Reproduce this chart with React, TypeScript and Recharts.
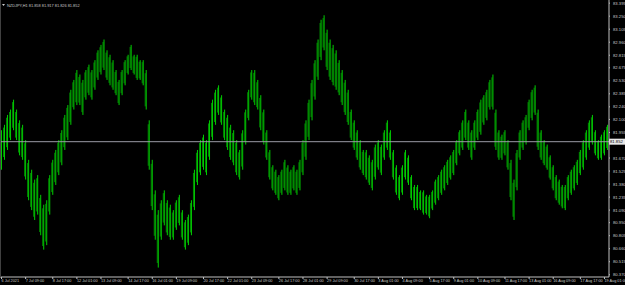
import React from 'react'
import { ComposedChart, Bar, XAxis, YAxis, ReferenceLine } from 'recharts'

const title = 'NZDJPY,H1  81.858 81.917 81.826 81.852'
const lastPrice = 81.852

// sample index where each time label sits
const timeTickIndex = [0, 8, 17, 25, 33, 42, 50, 58, 67, 75, 83, 92, 100, 108, 117, 125, 133, 142, 150, 158, 167, 175, 183, 192, 200]
const timeLabels = [
  '6 Jul 2021', '7 Jul 09:00', '8 Jul 17:00', '12 Jul 01:00', '13 Jul 09:00', '14 Jul 17:00', '16 Jul 01:00',
  '19 Jul 09:00', '20 Jul 17:00', '22 Jul 01:00', '23 Jul 09:00', '26 Jul 17:00', '28 Jul 01:00', '29 Jul 09:00',
  '30 Jul 17:00', '3 Aug 01:00', '4 Aug 09:00', '5 Aug 17:00', '9 Aug 01:00', '10 Aug 09:00', '11 Aug 17:00',
  '13 Aug 01:00', '16 Aug 09:00', '17 Aug 17:00', '19 Aug 01:00',
]

const priceTicks = [83.395, 83.25, 83.105, 82.96, 82.815, 82.675, 82.53, 82.385, 82.24, 82.1, 81.955, 81.67, 81.525, 81.38, 81.235, 81.09, 80.95, 80.805, 80.66, 80.515, 80.37]

// highs / lows sampled across the window, left to right
const highs = [
  81.98, 82.04, 82.15, 82.21, 82.32, 82.21, 82.09, 82.04, 81.87, 81.65, 81.54, 81.43, 81.48, 81.26, 81.15, 81.2, 81.48, 81.65, 81.76, 81.87,
  81.98, 82.15, 82.26, 82.43, 82.54, 82.65, 82.6, 82.54, 82.65, 82.71, 82.65, 82.76, 82.87, 82.93, 82.99, 82.87, 82.82, 82.76, 82.65, 82.54,
  82.65, 82.76, 82.82, 82.93, 82.82, 82.82, 82.76, 82.76, 82.65, 82.09, 81.65, 81.31, 81.09, 81.2, 81.31, 81.2, 81.15, 81.09, 81.2, 81.26,
  81.09, 80.98, 81.04, 81.2, 81.54, 81.76, 81.87, 81.93, 81.87, 82.09, 82.32, 82.43, 82.48, 82.37, 82.21, 82.15, 82.04, 81.98, 81.87, 81.76,
  81.98, 82.21, 82.43, 82.65, 82.65, 82.54, 82.37, 82.21, 81.98, 81.76, 81.59, 81.54, 81.48, 81.54, 81.65, 81.59, 81.54, 81.59, 81.54, 81.65,
  81.87, 82.09, 82.32, 82.54, 82.76, 82.99, 83.21, 83.26, 83.1, 82.99, 82.93, 82.87, 82.76, 82.65, 82.54, 82.43, 82.21, 82.09, 81.98, 81.87,
  81.76, 81.76, 81.7, 81.65, 81.82, 81.87, 81.82, 81.98, 82.09, 81.98, 81.76, 81.59, 81.48, 81.59, 81.76, 81.7, 81.48, 81.37, 81.37, 81.31,
  81.31, 81.26, 81.26, 81.31, 81.43, 81.48, 81.54, 81.59, 81.65, 81.7, 81.76, 81.87, 81.98, 82.09, 82.21, 82.09, 81.98, 82.09, 82.21, 82.32,
  82.37, 82.43, 82.54, 82.6, 82.21, 81.98, 81.93, 81.98, 81.87, 81.65, 81.43, 81.76, 81.98, 82.09, 82.15, 82.32, 82.43, 82.48, 82.21, 81.98,
  81.87, 81.82, 81.7, 81.59, 81.48, 81.43, 81.37, 81.37, 81.48, 81.54, 81.59, 81.65, 81.76, 81.87, 81.98, 82.09, 82.15, 81.98, 81.87, 81.93,
  81.98, 82.04,
]
const lows = [
  81.54, 81.65, 81.76, 81.87, 81.98, 81.87, 81.7, 81.65, 81.43, 81.2, 81.09, 80.98, 81.04, 80.81, 80.65, 80.7, 81.04, 81.26, 81.37, 81.48,
  81.59, 81.76, 81.87, 82.04, 82.21, 82.26, 82.26, 82.15, 82.32, 82.37, 82.32, 82.43, 82.54, 82.6, 82.65, 82.54, 82.48, 82.43, 82.37, 82.26,
  82.37, 82.48, 82.6, 82.65, 82.6, 82.54, 82.54, 82.48, 82.21, 81.54, 81.09, 80.76, 80.45, 80.76, 80.92, 80.81, 80.76, 80.76, 80.87, 80.92,
  80.76, 80.65, 80.7, 80.81, 81.09, 81.37, 81.48, 81.54, 81.48, 81.65, 81.87, 82.04, 82.15, 82.04, 81.87, 81.76, 81.65, 81.59, 81.48, 81.43,
  81.54, 81.82, 82.09, 82.32, 82.26, 82.21, 81.98, 81.82, 81.65, 81.43, 81.31, 81.26, 81.2, 81.26, 81.31, 81.26, 81.26, 81.31, 81.26, 81.31,
  81.48, 81.65, 81.87, 82.09, 82.32, 82.54, 82.76, 82.87, 82.65, 82.54, 82.48, 82.43, 82.37, 82.26, 82.15, 82.04, 81.87, 81.76, 81.65, 81.54,
  81.48, 81.43, 81.37, 81.31, 81.43, 81.54, 81.48, 81.65, 81.76, 81.65, 81.43, 81.26, 81.2, 81.26, 81.43, 81.37, 81.2, 81.09, 81.09, 81.09,
  81.04, 81.04, 81.0, 81.09, 81.15, 81.2, 81.26, 81.31, 81.37, 81.43, 81.48, 81.59, 81.7, 81.76, 81.87, 81.76, 81.65, 81.76, 81.87, 81.93,
  82.04, 82.09, 82.21, 82.21, 81.76, 81.65, 81.65, 81.7, 81.54, 81.2, 80.98, 81.31, 81.65, 81.76, 81.82, 81.98, 82.09, 82.15, 81.76, 81.65,
  81.59, 81.54, 81.43, 81.31, 81.2, 81.15, 81.11, 81.09, 81.2, 81.26, 81.31, 81.37, 81.48, 81.54, 81.65, 81.76, 81.82, 81.7, 81.65, 81.65,
  81.7, 81.76,
]

const data = highs.map((h, i) => ({ i, range: [lows[i], h] }))

const BarShape = (props: any) => {
  const { x, y, width, height } = props
  if (height == null || isNaN(height)) return null
  const h = Math.max(Math.abs(height), 1)
  const top = height < 0 ? y + height : y
  return (
    <g>
      <rect x={x} y={top + h * 0.08} width={1} height={h * 0.84} fill="#008c00" />
      <rect x={x + 1} y={top} width={1} height={h} fill="#00cc00" />
    </g>
  )
}

const PriceTick = (props: any) => {
  const { x, y, payload } = props
  return (
    <text x={x + 1} y={y + 1.5} fontSize={4.2} fill="#c8c8c8" fontFamily="Liberation Sans, Arial, sans-serif">
      {payload.value.toFixed(3)}
    </text>
  )
}

const TimeTick = (props: any) => {
  const { x, y, payload } = props
  const k = timeTickIndex.indexOf(payload.value)
  return (
    <text x={x} y={y + 3} fontSize={3.8} fill="#c8c8c8" fontFamily="Liberation Sans, Arial, sans-serif">
      {k >= 0 ? timeLabels[k] : ''}
    </text>
  )
}

const PriceLabel = (props: any) => {
  const { viewBox } = props
  const { x, y, width } = viewBox
  return (
    <g>
      <rect x={x + width} y={y - 3} width={16} height={6} fill="#e8e8e8" />
      <text x={x + width + 1} y={y + 1.5} fontSize={4.2} fill="#000" fontFamily="Liberation Sans, Arial, sans-serif">
        {lastPrice.toFixed(3)}
      </text>
    </g>
  )
}

export default function App() {
  return (
    <div style={{ position: 'relative', width: 625, height: 285, background: '#000', overflow: 'hidden' }}>
      <style>{'body{margin:0;background:#000}'}</style>
      <ComposedChart width={625} height={285} data={data} margin={{ top: 0, right: 0, bottom: 0, left: 0 }} barCategoryGap={0}>
        <XAxis
          dataKey="i"
          type="category"
          ticks={timeTickIndex}
          interval={0}
          height={8}
          tick={<TimeTick />}
          tickSize={2}
          tickMargin={0}
          tickLine={{ stroke: '#c0c0c0' }}
          axisLine={{ stroke: '#c0c0c0' }}
        />
        <YAxis
          orientation="right"
          width={16}
          domain={[80.345, 83.43]}
          ticks={priceTicks}
          allowDataOverflow
          tick={<PriceTick />}
          tickSize={1}
          tickLine={{ stroke: '#c0c0c0' }}
          axisLine={{ stroke: '#c0c0c0' }}
          interval={0}
        />
        <Bar dataKey="range" shape={<BarShape />} isAnimationActive={false} />
        <ReferenceLine y={lastPrice} stroke="#9a9aa6" strokeWidth={1} label={<PriceLabel />} />
      </ComposedChart>
      <svg width={120} height={10} style={{ position: 'absolute', left: 0, top: 0 }}>
        <path d="M2,4 L5,4 L3.5,6 Z" fill="#c8c8c8" />
        <text x={7} y={6.5} fontSize={3.9} fill="#c8c8c8" fontFamily="Liberation Sans, Arial, sans-serif">
          {title}
        </text>
      </svg>
      <div style={{ position: 'absolute', left: 0, top: 0, width: 1, height: 277, background: '#404040' }} />
    </div>
  )
}
